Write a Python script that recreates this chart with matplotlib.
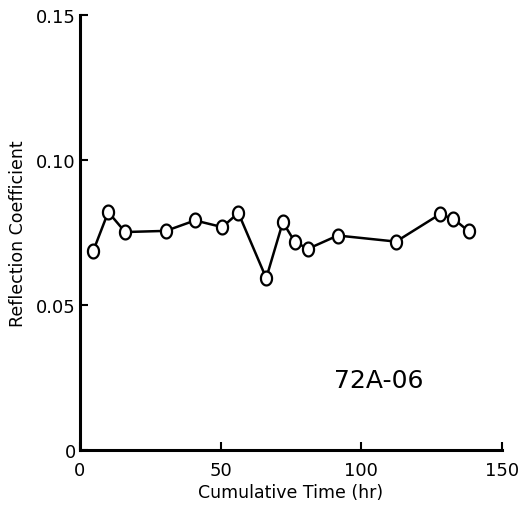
import matplotlib
matplotlib.use("Agg")
import numpy as np
import matplotlib.pyplot as plt
from matplotlib.path import Path

# cumulative time (hr) and reflection coefficient
hours = [4.7, 10.1, 16.1, 30.6, 40.9, 50.6, 56.3, 66.2, 72.1, 76.3, 81.0,
         91.6, 112.3, 127.8, 132.6, 138.2]
refl = [0.0684, 0.0820, 0.0751, 0.0755, 0.0791, 0.0768, 0.0817, 0.0592,
        0.0785, 0.0718, 0.0693, 0.0739, 0.0718, 0.0812, 0.0797, 0.0753]
x_ticks = [0, 50, 100, 150]
y_ticks = [0, 0.05, 0.10, 0.15]
y_tick_labels = ["0", "0.05", "0.10", "0.15"]
sample_id = "72A-06"

# slightly tall open circle, like the hand-drawn markers
t = np.linspace(0, 2 * np.pi, 60)
ellipse = Path(np.column_stack([0.8 * np.cos(t), np.sin(t)]), closed=True)

fig = plt.figure(figsize=(5.32, 5.10), dpi=100)
ax = fig.add_axes([0.150, 0.116, 0.794, 0.853])

ax.plot(hours, refl, color="black", lw=1.8, marker=ellipse, ms=10,
        mfc="white", mec="black", mew=1.6, zorder=3, clip_on=False)

ax.set_xlim(0, 150)
ax.set_ylim(0, 0.15)
ax.set_xticks(x_ticks)
ax.set_yticks(y_ticks)
ax.set_yticklabels(y_tick_labels)
ax.tick_params(direction="in", length=6, width=1.5, labelsize=13, pad=3)
ax.tick_params(axis="x", pad=8)

for side in ["top", "right"]:
    ax.spines[side].set_visible(False)
for side in ["left", "bottom"]:
    ax.spines[side].set_linewidth(2.2)

ax.set_xlabel("Cumulative Time (hr)", fontsize=12.5, labelpad=3)
ax.set_ylabel("Reflection Coefficient", fontsize=12.5, labelpad=6)
ax.text(106, 0.0240, sample_id, fontsize=18, ha="center", va="center")

fig.savefig("out.png", dpi=100, facecolor="white")
